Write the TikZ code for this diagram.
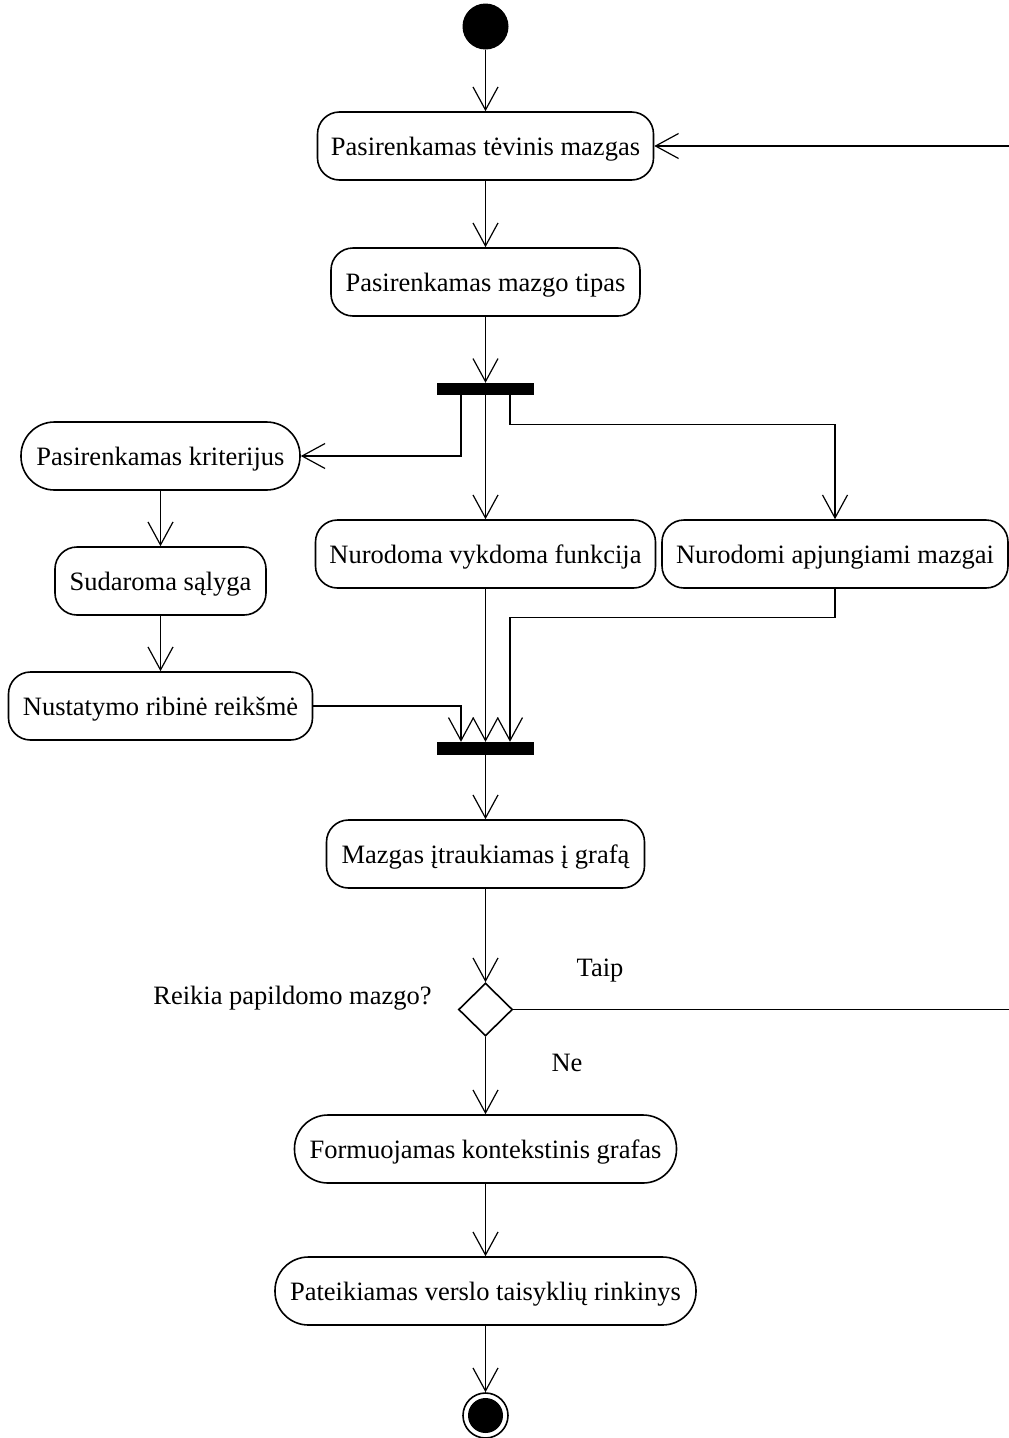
\documentclass[tikz,border=0pt]{standalone}
\usepackage{fontspec}
\setmainfont{Liberation Serif}
\usetikzlibrary{arrows.meta,shapes.geometric}

\tikzset{
  every node/.style={font=\fontsize{26.5}{30}\selectfont},
  boxtext/.style={text height=24pt, text depth=6pt},
  action/.style={draw, line width=1.6pt, rounded corners=22pt,
    minimum height=68pt, inner sep=0pt, boxtext},
  pill/.style={draw, line width=1.6pt, rounded corners=33.5pt,
    minimum height=68pt, inner sep=0pt, boxtext},
  bar/.style={fill=black, draw=none, inner sep=0pt, minimum width=97pt},
  startnode/.style={circle, fill=black, minimum size=46pt, inner sep=0pt},
  endnode/.style={circle, draw, line width=1.6pt, minimum size=45pt, inner sep=0pt},
  decision/.style={diamond, draw, line width=1.6pt, minimum width=54pt,
    minimum height=53pt, inner sep=0pt},
  flow/.style={line width=1.2pt, -{Straight Barb[length=23pt,width=25pt]}},
  lbl/.style={inner sep=0pt}
}

\begin{document}
\begin{tikzpicture}[x=1pt, y=-1pt]
  \useasboundingbox (0,0) rectangle (1009,1438);

  % activity nodes
  \node[startnode] (start) at (485.5,26.5) {};
  \node[action, minimum width=336pt] (parent) at (485.5,146) {Pasirenkamas tėvinis mazgas};
  \node[action, minimum width=309pt] (type) at (485.5,282) {Pasirenkamas mazgo tipas};
  \node[bar, minimum height=12pt] (fork) at (485.5,389) {};
  \node[pill, minimum width=279pt] (crit) at (160.5,456) {Pasirenkamas kriterijus};
  \node[action, minimum width=211pt] (cond) at (160.5,581) {Sudaroma sąlyga};
  \node[action, minimum width=304pt] (limit) at (160.5,706) {Nustatymo ribinė reikšmė};
  \node[action, minimum width=340pt] (func) at (485.5,554) {Nurodoma vykdoma funkcija};
  \node[action, minimum width=346pt] (merge) at (835,554) {Nurodomi apjungiami mazgai};
  \node[bar, minimum height=13pt] (join) at (485.5,748.5) {};
  \node[action, minimum width=318pt] (add) at (485.5,854) {Mazgas įtraukiamas į grafą};
  \node[decision] (dec) at (485.5,1009.5) {};
  \node[pill, minimum width=382pt] (ctx) at (485.5,1149) {Formuojamas kontekstinis grafas};
  \node[pill, minimum width=421pt] (rules) at (485.5,1291) {Pateikiamas verslo taisyklių rinkinys};
  \node[endnode] (stop) at (485.5,1415.5) {};
  \fill (stop.center) circle (17.5);

  % labels
  \node[lbl] (q) at (292.5,998) {Reikia papildomo mazgo?};
  \node[lbl] (yes) at (600,971) {Taip};
  \node[lbl] (no) at (567,1063) {Ne};

  % connectors
  \draw[flow] (start) -- (parent);
  \draw[flow] (parent) -- (type);
  \draw[flow] (type) -- (fork);
  \draw[flow] ([xshift=-24.5pt]fork.south) |- (crit.east);
  \draw[flow] (fork.south) -- (func.north);
  \draw[flow] ([xshift=24.5pt]fork.south) -- ++(0,29) -| (merge.north);
  \draw[flow] (crit) -- (cond);
  \draw[flow] (cond) -- (limit);
  \draw[flow] (limit.east) -| ([xshift=-24.5pt]join.north);
  \draw[flow] (func.south) -- (join.north);
  \draw[flow] (merge.south) -- ++(0,29) -| ([xshift=24.5pt]join.north);
  \draw[flow] (join) -- (add);
  \draw[flow] (add) -- (dec);
  \draw[flow] (dec.east) -- ++(530,0) |- (parent.east);
  \draw[flow] (dec) -- (ctx);
  \draw[flow] (ctx) -- (rules);
  \draw[flow] (rules) -- (stop);
\end{tikzpicture}
\end{document}
